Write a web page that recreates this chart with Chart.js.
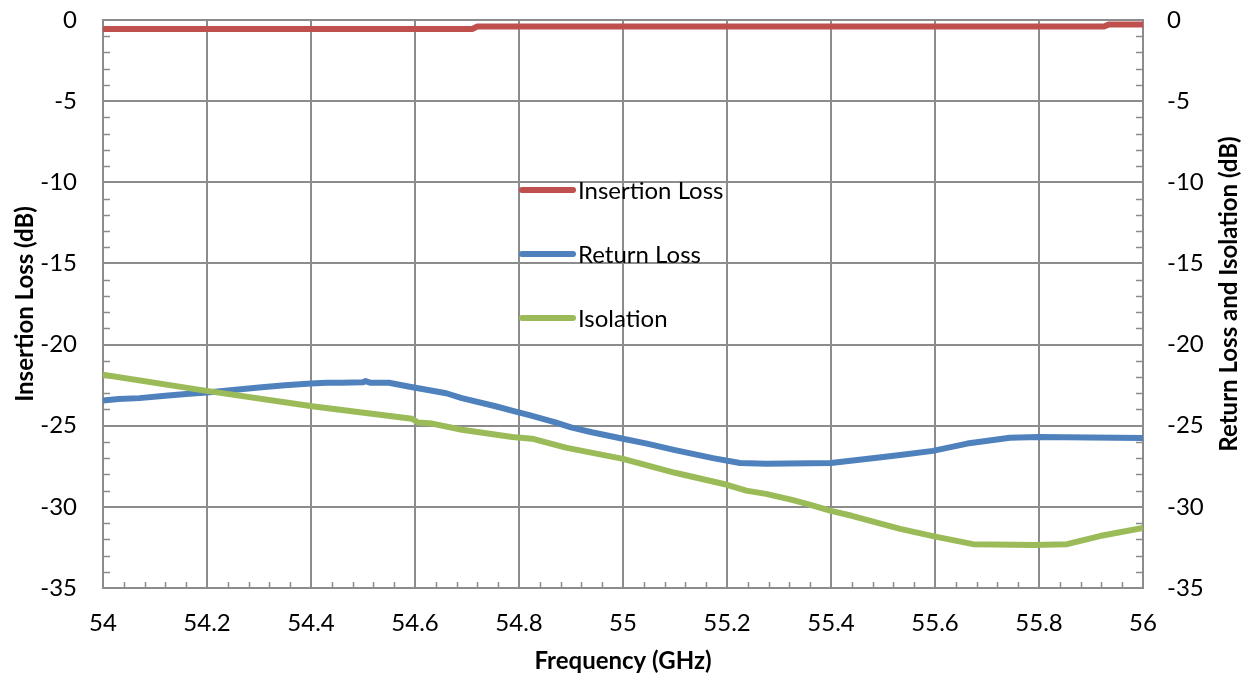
<!DOCTYPE html>
<html>
<head>
<meta charset="utf-8">
<script src="https://cdn.jsdelivr.net/npm/chart.js@4/dist/chart.umd.min.js"></script>
<style>
  html, body { margin: 0; padding: 0; background: #ffffff; }
  #wrap { width: 1247px; height: 677px; position: relative; }
</style>
</head>
<body>
<div id="wrap"><canvas id="c"></canvas></div>
<script>
// ---- Data ----
const seriesNames = ["Insertion Loss", "Return Loss", "Isolation"];

const freqIL = [54.00, 54.71, 54.72, 55.925, 55.935, 56.00];
const insertionLoss = [-0.55, -0.55, -0.40, -0.40, -0.27, -0.27];

const freqRL = [54.00, 54.03, 54.07, 54.12, 54.16, 54.20, 54.25, 54.30, 54.35, 54.40,
                54.43, 54.46, 54.50, 54.505, 54.515, 54.55, 54.59, 54.66, 54.69, 54.755,
                54.79, 54.82, 54.87, 54.90, 54.94, 55.00, 55.046, 55.10, 55.173, 55.225,
                55.275, 55.40, 55.442, 55.488, 55.533, 55.596, 55.662, 55.744, 55.80, 56.00];
const returnLoss = [-23.45, -23.35, -23.30, -23.15, -23.05, -22.95, -22.80, -22.65, -22.50, -22.40,
                    -22.35, -22.35, -22.32, -22.25, -22.36, -22.35, -22.60, -23.00, -23.30, -23.80,
                    -24.10, -24.35, -24.80, -25.10, -25.40, -25.80, -26.10, -26.50, -27.00, -27.30,
                    -27.35, -27.30, -27.15, -26.97, -26.80, -26.55, -26.10, -25.74, -25.70, -25.75];

const freqIso = [54.00, 54.196, 54.402, 54.594, 54.606, 54.633, 54.69, 54.787, 54.825, 54.89,
                 55.00, 55.10, 55.20, 55.237, 55.275, 55.325, 55.352, 55.40, 55.44, 55.533,
                 55.596, 55.673, 55.79, 55.854, 55.917, 56.00];
const isolation = [-21.85, -22.84, -23.80, -24.57, -24.80, -24.87, -25.25, -25.70, -25.80, -26.35,
                   -27.04, -27.90, -28.64, -29.00, -29.20, -29.57, -29.80, -30.25, -30.55, -31.36,
                   -31.80, -32.30, -32.35, -32.30, -31.80, -31.30];

const xTickLabels = ["54", "54.2", "54.4", "54.6", "54.8", "55", "55.2", "55.4", "55.6", "55.8", "56"];
const yTickLabels = ["0", "-5", "-10", "-15", "-20", "-25", "-30", "-35"];

const seriesColors = ["#C0504D", "#4F81BD", "#9BBB59"];

function pts(xs, ys) { return xs.map((x, i) => ({ x: x, y: ys[i] })); }

const FONT = "Lato";
const GRID = "#8c8c8c";
const TICK_SIZE = 24;
const TITLE_SIZE = 24;

// ---- Plugin: minor ticks, in-plot legend, right axis title ----
const extras = {
  id: "extras",
  beforeDatasetsDraw(chart) {
    const ctx = chart.ctx;
    const xs = chart.scales.x, yl = chart.scales.y, yr = chart.scales.y2;
    const ca = chart.chartArea;
    ctx.save();
    ctx.strokeStyle = GRID;
    ctx.lineWidth = 1.5;
    ctx.beginPath();
    for (let i = 0; i <= 50; i++) {
      if (i % 5 === 0) continue;
      const px = Math.round(xs.getPixelForValue(54 + i * 0.04)) + 0.5;
      ctx.moveTo(px, ca.bottom);
      ctx.lineTo(px, ca.bottom - 6);
    }
    for (let v = 0; v >= -35; v--) {
      if (v % 5 === 0) continue;
      const py = Math.round(yl.getPixelForValue(v)) + 0.5;
      ctx.moveTo(ca.left, py);
      ctx.lineTo(ca.left + 7, py);
      const py2 = Math.round(yr.getPixelForValue(v)) + 0.5;
      ctx.moveTo(ca.right, py2);
      ctx.lineTo(ca.right - 7, py2);
    }
    ctx.stroke();
    ctx.restore();
  },
  afterDraw(chart) {
    const ctx = chart.ctx;
    ctx.save();
    // legend inside plot
    const lx0 = 522, lx1 = 573, tx = 578;
    const rows = [190, 254, 318];
    ctx.font = TICK_SIZE + "px " + FONT;
    ctx.textBaseline = "middle";
    ctx.textAlign = "left";
    seriesNames.forEach((name, i) => {
      ctx.strokeStyle = seriesColors[i];
      ctx.lineWidth = 6;
      ctx.lineCap = "round";
      ctx.beginPath();
      ctx.moveTo(lx0, rows[i]);
      ctx.lineTo(lx1, rows[i]);
      ctx.stroke();
      ctx.fillStyle = "#000000";
      ctx.fillText(name, tx, rows[i] + 1);
    });
    // right axis title (reads bottom to top)
    ctx.translate(1229, 294);
    ctx.rotate(-Math.PI / 2);
    ctx.font = "bold " + TITLE_SIZE + "px " + FONT;
    ctx.textAlign = "center";
    ctx.textBaseline = "middle";
    ctx.fillStyle = "#000000";
    ctx.fillText("Return Loss and Isolation (dB)", 0, 0);
    ctx.restore();
  }
};

const lineStyle = {
  borderWidth: 6,
  pointRadius: 0,
  pointHoverRadius: 0,
  tension: 0,
  fill: false,
  borderJoinStyle: "round",
  borderCapStyle: "butt"
};

function fitY(width) {
  return function (s) {
    s.width = width;
    s.paddingTop = 0;
    s.paddingBottom = 0;
  };
}

new Chart(document.getElementById("c"), {
  type: "line",
  data: {
    datasets: [
      Object.assign({ label: seriesNames[0], data: pts(freqIL, insertionLoss), borderColor: seriesColors[0], yAxisID: "y", order: 2 }, lineStyle),
      Object.assign({ label: seriesNames[1], data: pts(freqRL, returnLoss), borderColor: seriesColors[1], yAxisID: "y2", order: 1 }, lineStyle),
      Object.assign({ label: seriesNames[2], data: pts(freqIso, isolation), borderColor: seriesColors[2], yAxisID: "y2", order: 0 }, lineStyle)
    ]
  },
  options: {
    responsive: true,
    maintainAspectRatio: false,
    animation: false,
    layout: { autoPadding: false, padding: { top: 20, left: 0, right: 0, bottom: 0 } },
    plugins: {
      legend: { display: false },
      tooltip: { enabled: false }
    },
    scales: {
      x: {
        type: "linear",
        min: 54, max: 56,
        afterFit(s) { s.height = 89; s.paddingLeft = 0; s.paddingRight = 0; },
        afterBuildTicks(s) { s.ticks = xTickLabels.map(t => ({ value: parseFloat(t) })); },
        ticks: {
          padding: 21,
          color: "#000000",
          font: { family: FONT, size: TICK_SIZE },
          maxRotation: 0,
          autoSkip: false,
          callback: (v, i) => xTickLabels[i]
        },
        grid: { color: GRID, lineWidth: 2, drawTicks: false },
        border: { color: GRID, width: 2 },
        title: {
          display: true,
          text: "Frequency (GHz)",
          color: "#000000",
          font: { family: FONT, size: TITLE_SIZE, weight: "bold" },
          padding: { top: 0, bottom: 1 }
        }
      },
      y: {
        type: "linear",
        position: "left",
        min: -35, max: 0,
        afterFit: fitY(103),
        afterBuildTicks(s) { s.ticks = yTickLabels.map(t => ({ value: parseFloat(t) })); },
        ticks: {
          padding: 26,
          color: "#000000",
          font: { family: FONT, size: TICK_SIZE },
          autoSkip: false,
          callback: (v, i) => yTickLabels[i]
        },
        grid: { color: GRID, lineWidth: 2, drawTicks: false },
        border: { color: GRID, width: 2 },
        title: {
          display: true,
          text: "Insertion Loss (dB)",
          color: "#000000",
          font: { family: FONT, size: TITLE_SIZE, weight: "bold" },
          padding: { top: 11, bottom: 0 }
        }
      },
      y2: {
        type: "linear",
        position: "right",
        min: -35, max: 0,
        afterFit: fitY(104),
        afterBuildTicks(s) { s.ticks = yTickLabels.map(t => ({ value: parseFloat(t) })); },
        ticks: {
          padding: 24,
          color: "#000000",
          font: { family: FONT, size: TICK_SIZE },
          autoSkip: false,
          callback: (v, i) => yTickLabels[i]
        },
        grid: { display: false, drawTicks: false },
        border: { color: GRID, width: 2 },
        title: { display: false }
      }
    }
  },
  plugins: [extras]
});
</script>
</body>
</html>
